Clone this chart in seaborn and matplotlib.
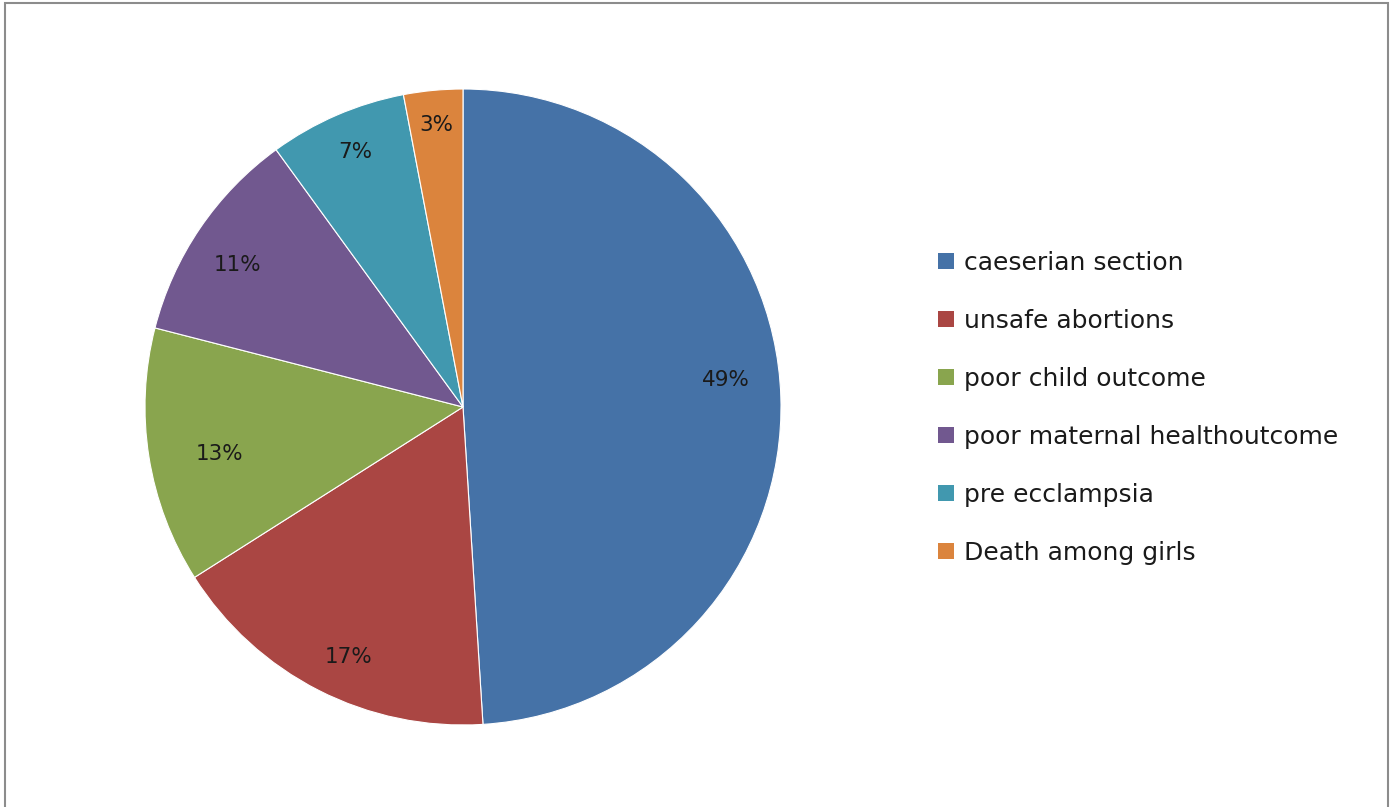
import matplotlib
matplotlib.use("Agg")
import numpy as np
import matplotlib.pyplot as plt
from matplotlib.patches import Patch, Rectangle
import seaborn as sns

# Causes and their shares (percent)
causes = [
    "caeserian section",
    "unsafe abortions",
    "poor child outcome",
    "poor maternal healthoutcome",
    "pre ecclampsia",
    "Death among girls",
]
shares = [49, 17, 13, 11, 7, 3]
slice_colors = ["#4572A7", "#AA4643", "#89A54E", "#71588F", "#4198AF", "#DB843D"]

sns.set_theme(style="white")
plt.rcParams["font.family"] = ["DejaVu Sans"]
palette = sns.color_palette(slice_colors)
text_color = "#1a1a1a"

W, H = 1393, 807
fig = plt.figure(figsize=(W / 100, H / 100), dpi=100)
fig.patch.set_facecolor("white")

# pie placed as a square region: centre (463, 407) px, radius 318 px
cx, cy, r = 463, 407, 318
ax = fig.add_axes([(cx - r) / W, (H - cy - r) / H, 2 * r / W, 2 * r / H])
wedges, texts, autotexts = ax.pie(
    shares,
    colors=palette,
    startangle=90,
    counterclock=False,
    autopct=lambda p: f"{p:.0f}%",
    pctdistance=0.85,
    wedgeprops=dict(edgecolor="white", linewidth=0.8),
    textprops=dict(fontsize=15.5, color=text_color),
)

# radial placement of each percentage label within its wedge
label_radius = [0.83, 0.865, 0.78, 0.837, 0.87, 0.89]
label_turn = [4, 2.5, 2, 2, -0.5, 0]  # small angular nudge, degrees
for w, t, rad, turn in zip(wedges, autotexts, label_radius, label_turn):
    ang = np.deg2rad((w.theta1 + w.theta2) / 2 + turn)
    t.set_position((rad * np.cos(ang), rad * np.sin(ang)))

ax.set_xlim(-1, 1)
ax.set_ylim(-1, 1)
ax.set_aspect("equal")
ax.axis("off")

handles = [Patch(facecolor=c, edgecolor="none") for c in palette]
fig.legend(
    handles,
    causes,
    loc="upper left",
    bbox_to_anchor=(938 / W, 1 - 251 / H),
    frameon=False,
    fontsize=18,
    labelcolor=text_color,
    handlelength=0.64,
    handleheight=0.64,
    handletextpad=0.4,
    labelspacing=1.36,
    borderpad=0,
    borderaxespad=0,
)

# outer chart frame
fig.patches.append(Rectangle((5 / W, -0.01), (1388 - 5) / W, 1.01 - 3 / H,
                             transform=fig.transFigure, fill=False,
                             edgecolor="#8c8c8c", linewidth=1.5))

fig.savefig("out.png", dpi=100)
